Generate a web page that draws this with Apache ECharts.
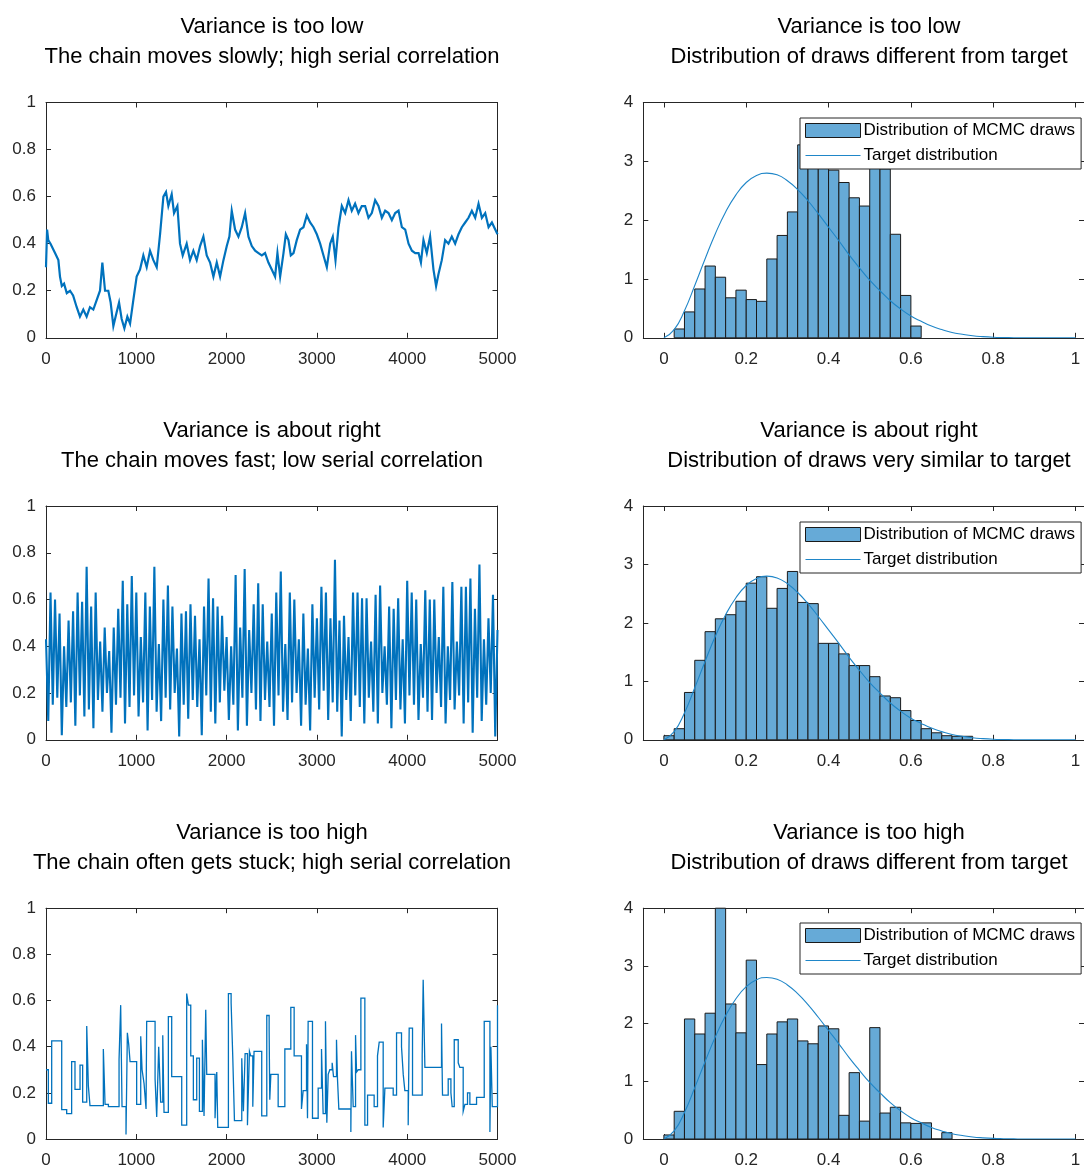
<!DOCTYPE html>
<html>
<head>
<meta charset="utf-8">
<script src="https://cdn.jsdelivr.net/npm/echarts@6/dist/echarts.min.js"></script>
<style>html,body{margin:0;padding:0;background:#fff}#c{width:1084px;height:1169px}</style>
</head>
<body>
<div id="c"></div>
<script>
// ---------- DATA ----------
const titlesLeft = [
  ['Variance is too low', 'The chain moves slowly; high serial correlation'],
  ['Variance is about right', 'The chain moves fast; low serial correlation'],
  ['Variance is too high', 'The chain often gets stuck; high serial correlation']
];
const titlesRight = [
  ['Variance is too low', 'Distribution of draws different from target'],
  ['Variance is about right', 'Distribution of draws very similar to target'],
  ['Variance is too high', 'Distribution of draws different from target']
];
const legendNames = ['Distribution of MCMC draws', 'Target distribution'];
const traceTicks = [0, 1000, 2000, 3000, 4000, 5000];
const histTicks = [0, 0.2, 0.4, 0.6, 0.8, 1];

// Trace 1 (variance too low): slow random walk
const lowSteps = [0,12,25,50,100,137,155,175,200,230,266,300,340,376,413,450,487,524,561,598,624,654,690,716,746,783,809,838,868,901,931,967,1004,1041,1078,1115,1152,1189,1226,1263,1300,1329,1355,1392,1418,1455,1484,1514,1558,1595,1632,1669,1706,1743,1780,1817,1854,1891,1928,1965,2002,2031,2057,2094,2131,2168,2205,2242,2279,2316,2353,2390,2426,2463,2500,2537,2563,2593,2630,2656,2685,2711,2741,2777,2814,2851,2888,2925,2962,2999,3036,3073,3110,3147,3176,3206,3239,3276,3313,3350,3386,3423,3460,3497,3534,3571,3608,3645,3682,3719,3756,3793,3830,3867,3904,3941,3978,4015,4052,4089,4126,4152,4180,4217,4254,4291,4320,4346,4383,4420,4457,4494,4531,4568,4605,4642,4679,4716,4753,4790,4827,4864,4901,4938,4975,5000];
const lowValues = [0.30,0.46,0.415,0.40,0.36,0.33,0.26,0.22,0.23,0.19,0.20,0.18,0.13,0.09,0.12,0.09,0.13,0.12,0.16,0.20,0.32,0.20,0.20,0.15,0.05,0.11,0.15,0.08,0.04,0.09,0.06,0.16,0.26,0.29,0.35,0.30,0.37,0.33,0.30,0.44,0.60,0.62,0.56,0.61,0.53,0.56,0.40,0.35,0.40,0.33,0.37,0.33,0.39,0.43,0.35,0.32,0.26,0.32,0.26,0.33,0.39,0.43,0.54,0.46,0.43,0.47,0.53,0.43,0.39,0.37,0.36,0.35,0.36,0.32,0.29,0.26,0.36,0.26,0.36,0.44,0.415,0.35,0.36,0.415,0.46,0.47,0.52,0.49,0.47,0.44,0.40,0.35,0.30,0.40,0.43,0.33,0.47,0.56,0.53,0.585,0.54,0.57,0.53,0.56,0.56,0.51,0.53,0.585,0.56,0.51,0.54,0.53,0.50,0.53,0.54,0.47,0.46,0.40,0.37,0.36,0.36,0.32,0.415,0.36,0.43,0.29,0.22,0.27,0.33,0.415,0.40,0.43,0.40,0.44,0.47,0.49,0.51,0.54,0.51,0.57,0.51,0.53,0.47,0.49,0.46,0.44];

// Trace 2 (variance about right): fast mixing, sampled every 25 draws
const midStepSize = 25;
const midValues = [0.43,0.08,0.63,0.15,0.60,0.18,0.54,0.02,0.40,0.14,0.51,0.16,0.55,0.06,0.63,0.19,0.59,0.10,0.74,0.13,
0.57,0.05,0.63,0.17,0.42,0.12,0.48,0.20,0.38,0.03,0.48,0.15,0.56,0.18,0.68,0.07,0.58,0.14,0.70,0.19,
0.63,0.10,0.44,0.16,0.63,0.04,0.57,0.17,0.74,0.12,0.41,0.08,0.60,0.18,0.66,0.13,0.57,0.20,0.39,0.014,
0.54,0.15,0.55,0.09,0.58,0.17,0.53,0.14,0.43,0.02,0.57,0.19,0.69,0.12,0.605,0.07,0.57,0.16,0.53,0.21,
0.44,0.085,0.40,0.15,0.705,0.04,0.48,0.18,0.73,0.06,0.47,0.20,0.58,0.13,0.67,0.08,0.58,0.17,0.42,0.14,
0.54,0.06,0.63,0.19,0.72,0.12,0.41,0.085,0.63,0.16,0.60,0.20,0.43,0.06,0.54,0.15,0.39,0.04,0.58,0.18,
0.52,0.13,0.655,0.21,0.63,0.085,0.52,0.16,0.77,0.12,0.51,0.014,0.53,0.17,0.44,0.08,0.63,0.19,0.63,0.14,
0.605,0.07,0.605,0.18,0.42,0.12,0.62,0.07,0.66,0.20,0.40,0.15,0.57,0.05,0.56,0.17,0.605,0.13,0.43,0.07,
0.68,0.19,0.63,0.15,0.60,0.085,0.41,0.18,0.64,0.12,0.60,0.085,0.60,0.20,0.44,0.14,0.655,0.07,0.40,0.17,
0.675,0.13,0.42,0.19,0.655,0.07,0.655,0.16,0.69,0.03,0.56,0.18,0.75,0.08,0.43,0.15,0.52,0.20,0.62,0.014,
0.47];

// Trace 3 (variance too high): sticky chain, change points and levels
const highSteps = [0,26,63,174,229,284,321,377,406,451,469,487,635,654,691,809,827,842,886,901,916,931,1004,1049,1064,1086,1108,1115,1208,1226,1248,1270,1293,1307,1355,1392,1503,1558,1577,1603,1632,1669,1699,1732,1750,1769,1780,1872,1891,1902,2020,2050,2068,2087,2168,2186,2205,2231,2253,2267,2290,2304,2389,2445,2471,2478,2490,2571,2645,2711,2748,2829,2848,2885,2896,2903,2951,3014,3051,3069,3095,3110,3125,3143,3169,3184,3217,3228,3243,3376,3383,3402,3428,3439,3457,3487,3531,3561,3634,3671,3690,3734,3753,3845,3882,3937,3956,3974,4011,4022,4059,4166,4177,4196,4380,4391,4454,4484,4498,4521,4565,4583,4620,4639,4668,4694,4768,4853,4916,4927,4942,5000];
const highValues = [0.30,0.155,0.425,0.127,0.11,0.335,0.215,0.32,0.16,0.49,0.23,0.145,0.39,0.15,0.14,0.345,0.58,0.14,0.02,0.46,0.41,0.335,0.15,0.445,0.30,0.24,0.13,0.51,0.26,0.095,0.40,0.16,0.45,0.115,0.53,0.27,0.06,0.63,0.58,0.36,0.17,0.35,0.12,0.43,0.10,0.56,0.28,0.09,0.29,0.05,0.63,0.59,0.36,0.08,0.35,0.12,0.37,0.06,0.38,0.36,0.14,0.38,0.10,0.535,0.47,0.17,0.28,0.14,0.39,0.57,0.36,0.13,0.21,0.41,0.09,0.51,0.09,0.22,0.39,0.11,0.51,0.07,0.28,0.30,0.33,0.27,0.43,0.26,0.13,0.03,0.38,0.14,0.45,0.29,0.30,0.61,0.06,0.19,0.14,0.36,0.42,0.05,0.22,0.19,0.46,0.40,0.28,0.21,0.06,0.48,0.19,0.36,0.69,0.31,0.50,0.19,0.26,0.20,0.14,0.43,0.33,0.31,0.12,0.15,0.20,0.15,0.18,0.51,0.03,0.40,0.14,0.58];

// Histograms (bin width 0.025)
const binWidth = 0.025;
const histLowStart = 0.025;
const histLowHeights = [0.15,0.44,0.83,1.22,1.03,0.68,0.81,0.65,0.62,1.34,1.74,2.14,3.28,3.1,3.0,2.85,2.64,2.38,2.24,3.1,2.87,1.76,0.72,0.20];
const histMidStart = 0;
const histMidHeights = [0.07,0.19,0.81,1.36,1.85,2.07,2.14,2.37,2.68,2.79,2.25,2.59,2.88,2.35,2.33,1.65,1.65,1.47,1.27,1.27,1.08,0.75,0.72,0.50,0.33,0.19,0.12,0.07,0.06,0.06];
const histHighStart = 0;
const histHighHeights = [0.07,0.48,2.08,1.82,2.18,4.0,2.34,1.84,3.10,1.29,1.82,2.03,2.08,1.70,1.65,1.96,1.91,0.41,1.15,0.31,1.93,0.45,0.55,0.28,0.27,0.28,0,0.11];

// Target density read at x = 0, 0.025, ..., 1
const targetX = [0,0.025,0.05,0.075,0.1,0.125,0.15,0.175,0.2,0.225,0.25,0.275,0.3,0.325,0.35,0.375,0.4,0.425,0.45,0.475,0.5,0.525,0.55,0.575,0.6,0.625,0.65,0.675,0.7,0.725,0.75,0.775,0.8,0.825,0.85,0.875,0.9,0.925,0.95,0.975,1];
const targetY = [0,0.14,0.46,0.89,1.34,1.77,2.14,2.43,2.64,2.76,2.80,2.77,2.67,2.52,2.33,2.11,1.88,1.65,1.41,1.19,0.98,0.80,0.63,0.49,0.37,0.28,0.20,0.14,0.09,0.06,0.035,0.02,0.01,0.005,0.002,0,0,0,0,0,0];

// ---------- BUILD ----------
const FONT = 'Liberation Sans, Arial, Helvetica, sans-serif';
const AX = '#262626';
const LINE = '#0072BD';
const CURVE = '#1f86c8';
const BAR = '#66AAD7';
const rows = [{top: 102.5, h: 235.3}, {top: 506, h: 233.8}, {top: 908.2, h: 234.8}];
const leftGrid = {left: 46, width: 451.5};
const rightGrid = {left: 643.3, width: 440.7};
const rightXMin = -0.05, rightXMax = 1.0205;
const titleTops = [12, 416, 818];
const legendTops = [118, 522, 923];

const grid = [], xAxis = [], yAxis = [], series = [], title = [], legend = [];

function axesFor(gi, xCfg, yCfg) {
  const lbl = {color: AX, fontSize: 17, fontFamily: FONT};
  const line = {show: true, onZero: false, lineStyle: {color: AX, width: 1}};
  const tick = {show: true, inside: true, length: 5, lineStyle: {color: AX}};
  xAxis.push(Object.assign({type: 'value', gridIndex: gi, position: 'bottom', axisLine: line, splitLine: {show: false},
    axisTick: Object.assign({}, tick, xCfg.tick || {}), axisLabel: Object.assign({}, lbl, {margin: 13}, xCfg.label || {})}, xCfg.base));
  xAxis.push(Object.assign({type: 'value', gridIndex: gi, position: 'top', axisLine: line, splitLine: {show: false},
    axisTick: Object.assign({}, tick, xCfg.tick || {}), axisLabel: {show: false}}, xCfg.base));
  yAxis.push(Object.assign({type: 'value', gridIndex: gi, position: 'left', axisLine: line, splitLine: {show: false},
    axisTick: tick, axisLabel: Object.assign({}, lbl, {margin: 10})}, yCfg));
  yAxis.push(Object.assign({type: 'value', gridIndex: gi, position: 'right', axisLine: line, splitLine: {show: false},
    axisTick: tick, axisLabel: {show: false}}, yCfg));
  // anchor series so the top / right box axes are drawn
  series.push({type: 'line', data: [], xAxisIndex: gi * 2 + 1, yAxisIndex: gi * 2 + 1, silent: true, symbol: 'none'});
}

// sticky chain drawn as an explicit staircase (horizontal holds, vertical jumps)
const stair = [];
highSteps.forEach((s, i) => {
  if (i > 0) stair.push([s, highValues[i - 1]]);
  stair.push([s, highValues[i]]);
});

const traces = [
  lowSteps.map((s, i) => [s, lowValues[i]]),
  midValues.map((v, i) => [i * midStepSize, v]),
  stair
];
const traceWidths = [2.2, 2.1, 1.3];
const hists = [
  {start: histLowStart, h: histLowHeights},
  {start: histMidStart, h: histMidHeights},
  {start: histHighStart, h: histHighHeights}
];
const target = targetX.map((x, i) => [x, targetY[i]]);
const intFmt = v => String(Math.round(v));

for (let r = 0; r < 3; r++) {
  // left: trace
  const gL = grid.length;
  grid.push({left: leftGrid.left, width: leftGrid.width, top: rows[r].top, height: rows[r].h});
  axesFor(gL, {base: {min: 0, max: 5000, interval: 1000}, label: {formatter: intFmt}}, {min: 0, max: 1, interval: 0.2});
  series.push({
    type: 'line', xAxisIndex: gL * 2, yAxisIndex: gL * 2, data: traces[r], symbol: 'none',
    silent: true, animation: false, lineStyle: {color: LINE, width: traceWidths[r], join: 'miter'}, itemStyle: {color: LINE}
  });
  title.push({text: titlesLeft[r][0] + '\n' + titlesLeft[r][1], left: 272, top: titleTops[r], textAlign: 'center', padding: 0,
    textStyle: {fontFamily: FONT, fontSize: 22, fontWeight: 'normal', color: '#000', lineHeight: 30}});

  // right: histogram
  const gR = grid.length;
  grid.push({left: rightGrid.left, width: rightGrid.width, top: rows[r].top, height: rows[r].h});
  axesFor(gR, {base: {min: rightXMin, max: rightXMax},
    tick: {customValues: histTicks}, label: {customValues: histTicks, formatter: v => String(Math.round(v * 10) / 10)}},
    {min: 0, max: 4, interval: 1});
  const hd = hists[r].h.map((h, i) => [hists[r].start + i * binWidth, hists[r].start + (i + 1) * binWidth, h]);
  series.push({
    type: 'custom', name: legendNames[0], xAxisIndex: gR * 2, yAxisIndex: gR * 2, data: hd, animation: false,
    encode: {x: [0, 1], y: 2}, itemStyle: {color: BAR, borderColor: '#1a1a1a', borderWidth: 1},
    renderItem: (params, api) => {
      const p0 = api.coord([api.value(0), api.value(2)]);
      const p1 = api.coord([api.value(1), 0]);
      return {type: 'rect', shape: {x: p0[0], y: p0[1], width: p1[0] - p0[0], height: p1[1] - p0[1]},
        style: {fill: BAR, stroke: '#1a1a1a', lineWidth: 1}};
    }
  });
  series.push({
    type: 'line', name: legendNames[1], xAxisIndex: gR * 2, yAxisIndex: gR * 2, data: target, symbol: 'none',
    smooth: true, animation: false, z: 3, lineStyle: {color: CURVE, width: 1.1}, itemStyle: {color: CURVE}
  });
  title.push({text: titlesRight[r][0] + '\n' + titlesRight[r][1], left: 869, top: titleTops[r], textAlign: 'center', padding: 0,
    textStyle: {fontFamily: FONT, fontSize: 22, fontWeight: 'normal', color: '#000', lineHeight: 30}});
  legend.push({
    left: 800, top: legendTops[r], orient: 'vertical', selectedMode: false, z: 10,
    backgroundColor: '#fff', borderColor: AX, borderWidth: 1, padding: [4, 6, 5, 5], itemGap: 8,
    itemWidth: 55, itemHeight: 14,
    textStyle: {fontFamily: FONT, fontSize: 17, color: '#000', padding: [0, 0, 0, -2]},
    data: [
      {name: legendNames[0], icon: 'rect', itemStyle: {color: BAR, borderColor: '#1a1a1a', borderWidth: 1}},
      {name: legendNames[1], icon: 'path://M0,0 L55,0 L55,1.2 L0,1.2 Z', itemStyle: {color: CURVE, borderWidth: 0}}
    ]
  });
}

const chart = echarts.init(document.getElementById('c'), null, {renderer: 'canvas'});
chart.setOption({animation: false, backgroundColor: '#fff', title, legend, grid, xAxis, yAxis, series});
</script>
</body>
</html>
